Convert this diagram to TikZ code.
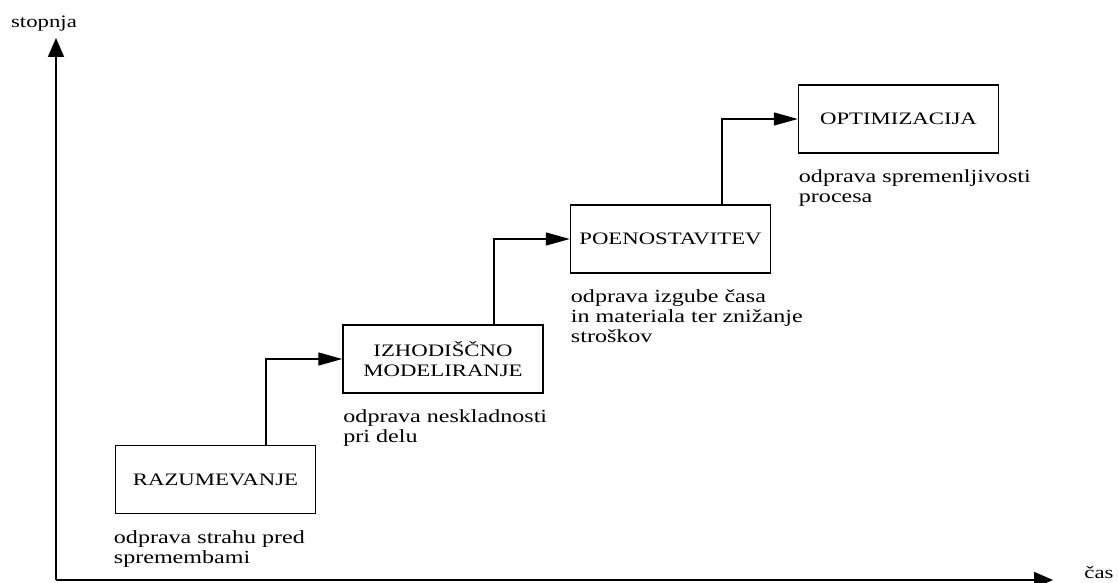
\documentclass[tikz,border=0pt]{standalone}
\usepackage{fontspec}
\setmainfont{Liberation Serif}[FakeStretch=1.3]
\usetikzlibrary{arrows.meta}
\begin{document}
\begin{tikzpicture}[x=1pt,y=-1pt,
  every node/.style={font=\fontsize{17.5}{20}\selectfont},
  phase/.style={draw,line width=1.5pt,minimum width=200pt,minimum height=68pt,align=center,inner sep=2pt},
  note/.style={anchor=north west,align=left,inner sep=0pt,font=\fontsize{18.5}{20}\selectfont},
  axis/.style={line width=1.8pt,-{Triangle[length=19pt,width=16pt]}},
  link/.style={line width=1.4pt,-{Triangle[length=24pt,width=13pt]}}]
\useasboundingbox (0,0) rectangle (1118,583);

% axes
\coordinate (o) at (56,580);
\coordinate (ytop) at (56,38);
\coordinate (xend) at (1053,580);
\draw[axis] (o) -- (ytop);
\draw[axis] (o) -- (xend);
\node (ylab) at (44,24) {stopnja};
\node (xlab) at (1099,572) {čas};

% phases
\node[phase] (b1) at (215.5,479.5) {RAZUMEVANJE};
\node[phase] (b2) at (443,359) {IZHODIŠČNO\\MODELIRANJE};
\node[phase] (b3) at (670.5,239) {POENOSTAVITEV};
\node[phase] (b4) at (898.5,119) {OPTIMIZACIJA};

% notes under each phase
\node[note] (n1) at ([xshift=-1pt,yshift=-16pt]b1.south west) {odprava strahu pred\\spremembami};
\node[note] (n2) at ([xshift=1pt,yshift=-16pt]b2.south west) {odprava neskladnosti\\pri delu};
\node[note] (n3) at ([xshift=1pt,yshift=-16pt]b3.south west) {odprava izgube časa\\in materiala ter znižanje\\stroškov};
\node[note] (n4) at ([xshift=1pt,yshift=-16pt]b4.south west) {odprava spremenljivosti\\procesa};

% steps between phases
\draw[link] ([xshift=50.5pt]b1.north) |- (b2.west);
\draw[link] ([xshift=51pt]b2.north) |- (b3.west);
\draw[link] ([xshift=51.5pt]b3.north) |- (b4.west);
\end{tikzpicture}
\end{document}
